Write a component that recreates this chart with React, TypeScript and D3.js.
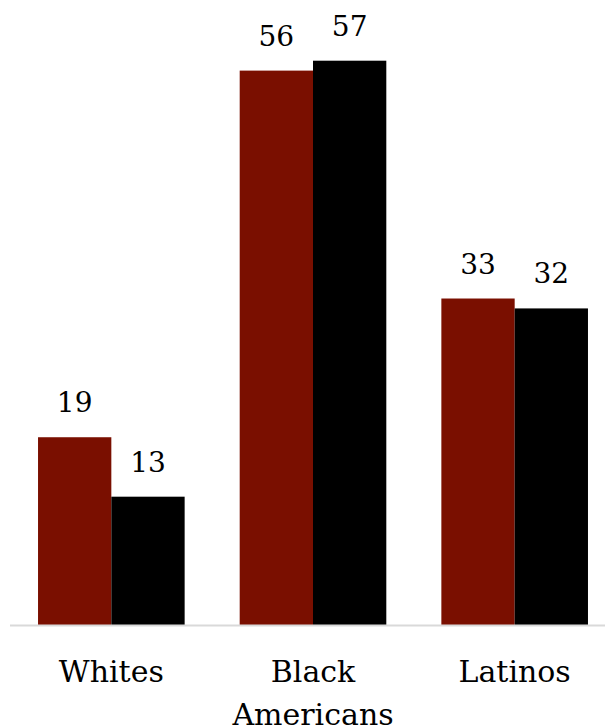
import React from "react";
import * as d3 from "d3";

const categories = ["Whites", "Black Americans", "Latinos"];
const categoryLines = [["Whites"], ["Black", "Americans"], ["Latinos"]];
const series1 = [19, 56, 33];
const series2 = [13, 57, 32];
const seriesColors = ["#7a0f00", "#000000"];

const W = 606;
const H = 726;
const FONT = "'DejaVu Serif', serif";

export default function App() {
  const x = d3
    .scaleBand<string>()
    .domain(categories)
    .range([10.5, 615.5])
    .paddingInner(0.273)
    .paddingOuter(0.1365);
  const y = d3.scaleLinear().domain([0, 57]).range([625.5, 60.7]);
  const sub = d3
    .scaleBand<number>()
    .domain([0, 1])
    .range([0, x.bandwidth()]);
  const allSeries = [series1, series2];

  return (
    <svg
      width={W}
      height={H}
      style={{ position: "absolute", left: 0, top: 0, background: "#fff" }}
    >
      {categories.map((c, i) => (
        <g key={c} transform={`translate(${x(c)},0)`}>
          {allSeries.map((s, j) => (
            <g key={j}>
              <rect
                x={sub(j)}
                y={y(s[i])}
                width={sub.bandwidth()}
                height={y(0) - y(s[i])}
                fill={seriesColors[j]}
              />
              <text
                x={(sub(j) as number) + sub.bandwidth() / 2}
                y={y(s[i]) - 25}
                textAnchor="middle"
                style={{ fontFamily: FONT, fontSize: 28 }}
                fill="#000"
              >
                {s[i]}
              </text>
            </g>
          ))}
        </g>
      ))}
      <line x1={10} x2={605} y1={625.5} y2={625.5} stroke="#d9d9d9" strokeWidth={2} />
      {categories.map((c, i) => (
        <text
          key={c}
          x={(x(c) as number) + x.bandwidth() / 2}
          y={682}
          textAnchor="middle"
          style={{ fontFamily: FONT, fontSize: 30 }}
          fill="#000"
        >
          {categoryLines[i].map((l, k) => (
            <tspan key={k} x={(x(c) as number) + x.bandwidth() / 2} dy={k === 0 ? 0 : 43}>
              {l}
            </tspan>
          ))}
        </text>
      ))}
    </svg>
  );
}
